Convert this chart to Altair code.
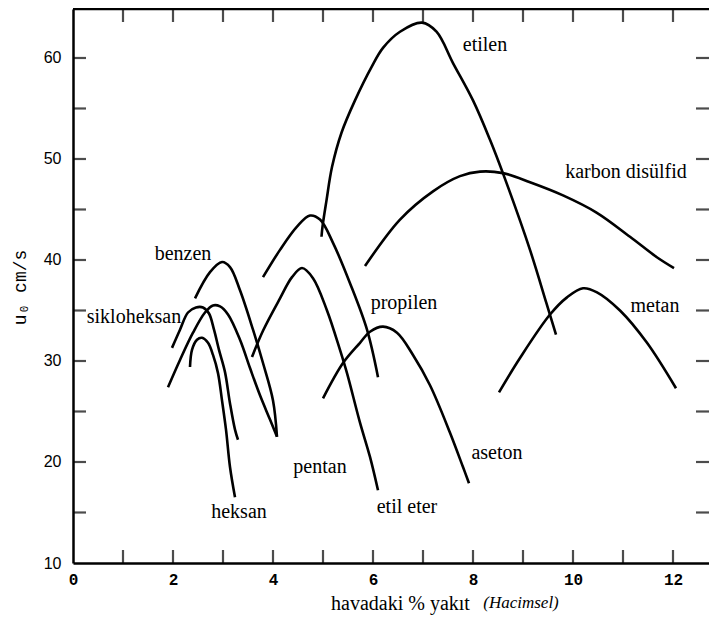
import altair as alt
import pandas as pd

# ---- data ----
etilen_x = [4.97, 4.99, 5.07, 5.18, 5.37, 5.64, 5.97, 6.2, 6.54, 6.98, 7.27, 7.6, 8.0, 8.34, 8.62, 9.14, 9.47, 9.66]
etilen_y = [42.3, 43.3, 45.9, 49.2, 52.6, 55.8, 59.1, 61.0, 62.6, 63.5, 62.6, 59.5, 55.8, 51.9, 48.3, 41.0, 35.7, 32.6]

cs2_x = [5.84, 6.54, 7.2, 7.74, 8.14, 8.6, 9.14, 9.8, 10.47, 11.14, 11.67, 12.02]
cs2_y = [39.4, 44.0, 46.8, 48.3, 48.75, 48.6, 47.7, 46.4, 44.7, 42.3, 40.3, 39.2]

metan_x = [8.52, 8.94, 9.54, 9.88, 10.2, 10.48, 10.94, 11.48, 12.06]
metan_y = [26.9, 30.3, 34.6, 36.3, 37.2, 36.8, 35.0, 31.8, 27.3]

propilen_x = [3.8, 4.14, 4.48, 4.74, 4.94, 5.2, 5.54, 5.88, 6.1]
propilen_y = [38.3, 41.0, 43.3, 44.4, 44.0, 41.7, 37.7, 33.1, 28.4]

eter_x = [3.58, 3.8, 4.14, 4.38, 4.58, 4.8, 5.08, 5.34, 5.48, 5.74, 5.94, 6.1]
eter_y = [30.4, 33.0, 36.2, 38.3, 39.2, 38.2, 35.0, 31.1, 28.8, 23.9, 20.5, 17.2]

aseton_x = [5.0, 5.4, 5.74, 5.94, 6.2, 6.48, 6.8, 7.14, 7.54, 7.8, 7.92]
aseton_y = [26.3, 29.8, 31.8, 32.9, 33.4, 32.8, 30.6, 27.6, 22.9, 19.5, 17.9]

benzen_x = [2.44, 2.74, 2.98, 3.14, 3.34, 3.6, 3.8, 4.0, 4.08]
benzen_y = [36.2, 38.8, 39.8, 39.3, 37.0, 33.1, 29.8, 26.1, 22.5]

siklo_x = [1.98, 2.14, 2.3, 2.46, 2.6, 2.72, 2.82, 2.92, 3.04, 3.14, 3.24, 3.3]
siklo_y = [31.3, 33.1, 34.8, 35.3, 35.3, 34.7, 33.1, 31.1, 28.9, 25.8, 23.2, 22.2]

pentan_x = [1.9, 2.14, 2.4, 2.64, 2.8, 2.94, 3.1, 3.34, 3.54, 3.74, 3.94, 4.08]
pentan_y = [27.4, 30.1, 32.8, 34.8, 35.5, 35.4, 34.6, 32.1, 29.3, 26.6, 24.2, 22.5]

heksan_x = [2.34, 2.38, 2.48, 2.58, 2.7, 2.8, 2.9, 2.98, 3.06, 3.14, 3.24]
heksan_y = [29.4, 31.1, 32.1, 32.3, 31.8, 30.6, 28.8, 26.1, 23.2, 19.5, 16.5]

series = {
    "etilen": (etilen_x, etilen_y),
    "karbon disülfid": (cs2_x, cs2_y),
    "metan": (metan_x, metan_y),
    "propilen": (propilen_x, propilen_y),
    "etil eter": (eter_x, eter_y),
    "aseton": (aseton_x, aseton_y),
    "benzen": (benzen_x, benzen_y),
    "sikloheksan": (siklo_x, siklo_y),
    "pentan": (pentan_x, pentan_y),
    "heksan": (heksan_x, heksan_y),
}

label_names = ["etilen", "karbon disülfid", "metan", "propilen", "aseton",
               "pentan", "etil eter", "benzen", "sikloheksan", "heksan"]
label_x = [8.24, 11.06, 11.64, 6.62, 8.48, 4.94, 6.68, 2.2, 1.22, 3.32]
label_y = [61.3, 48.7, 35.4, 35.7, 20.9, 19.5, 15.5, 40.6, 34.4, 15.0]

x_tick_values = list(range(1, 13))
y_tick_values = list(range(15, 65, 5))
x_label_values = [0, 2, 4, 6, 8, 10, 12]
y_label_values = [10, 20, 30, 40, 50, 60]

X_MIN, X_MAX = 0, 12.72
Y_MIN, Y_MAX = 10, 64.85

rows = []
for name, (xs, ys) in series.items():
    for xv, yv in zip(xs, ys):
        rows.append({"name": name, "x": xv, "y": yv})
curves_df = pd.DataFrame(rows)
labels_df = pd.DataFrame({"name": label_names, "x": label_x, "y": label_y})
xt_df = pd.DataFrame({"t": x_tick_values})
yt_df = pd.DataFrame({"t": y_tick_values})

xscale = alt.Scale(domain=[X_MIN, X_MAX], nice=False, zero=False)
yscale = alt.Scale(domain=[Y_MIN, Y_MAX], nice=False, zero=False)

x_axis = alt.Axis(
    values=x_label_values, grid=False, ticks=True, tickSize=0,
    domain=True, domainColor="black", domainWidth=2.5,
    labelFont="Liberation Mono", labelFontSize=16, labelFontWeight="bold",
    labelColor="black", labelPadding=8, labelFlush=False,
    title="havadaki % yakıt", titleFont="Liberation Serif", titleFontSize=20,
    titleFontWeight="normal", titleColor="black",
    titleX=327, titleY=40, titleAlign="center", titleBaseline="middle",
)
y_axis = alt.Axis(
    values=y_label_values, grid=False, ticks=True, tickSize=0,
    domain=True, domainColor="black", domainWidth=2.5,
    labelFont="Liberation Sans", labelFontSize=16, labelColor="black",
    labelPadding=12, labelFlush=False, labelBaseline="middle",
    title="u₀ cm/s", titleFont="Liberation Mono", titleFontSize=18,
    titleFontWeight="normal", titleColor="black",
    titleX=-53, titleY=278, titleAlign="center", titleBaseline="middle", titleAngle=270,
)

curves = alt.Chart(curves_df).mark_line(
    color="black", strokeWidth=2.6, interpolate="catmull-rom"
).encode(
    x=alt.X("x:Q", scale=xscale, axis=x_axis),
    y=alt.Y("y:Q", scale=yscale, axis=y_axis),
    detail="name:N",
)

labels = alt.Chart(labels_df).mark_text(
    font="Liberation Serif", fontSize=20, color="black", align="center", baseline="middle"
).encode(
    x=alt.X("x:Q", scale=xscale),
    y=alt.Y("y:Q", scale=yscale),
    text="name:N",
)

hacimsel = alt.Chart(pd.DataFrame({"x": [8.96], "y": [6.04], "t": ["(Hacimsel)"]})).mark_text(
    font="Liberation Serif", fontSize=17, fontStyle="italic", color="black",
    align="center", baseline="middle",
).encode(
    x=alt.X("x:Q", scale=xscale),
    y=alt.Y("y:Q", scale=yscale),
    text="t:N",
)

top_line = alt.Chart(pd.DataFrame({"v": [Y_MAX]})).mark_rule(
    color="black", strokeWidth=2.5
).encode(y=alt.Y("v:Q", scale=yscale))

bottom_ticks = alt.Chart(xt_df).mark_tick(
    orient="vertical", size=13, thickness=2.2, color="black", yOffset=-6.5
).encode(x=alt.X("t:Q", scale=xscale), y=alt.datum(Y_MIN, scale=yscale))

top_ticks = alt.Chart(xt_df).mark_tick(
    orient="vertical", size=13, thickness=2.2, color="black", yOffset=6.5
).encode(x=alt.X("t:Q", scale=xscale), y=alt.datum(Y_MAX, scale=yscale))

left_ticks = alt.Chart(yt_df).mark_tick(
    orient="horizontal", size=13, thickness=2.2, color="black", xOffset=6.5
).encode(y=alt.Y("t:Q", scale=yscale), x=alt.datum(X_MIN, scale=xscale))

right_ticks = alt.Chart(yt_df).mark_tick(
    orient="horizontal", size=13, thickness=2.2, color="black", xOffset=-6.5
).encode(y=alt.Y("t:Q", scale=yscale), x=alt.datum(X_MAX, scale=xscale))

chart = alt.layer(
    curves, labels, hacimsel, top_line, bottom_ticks, top_ticks, left_ticks, right_ticks
).properties(
    width=636, height=554,
    autosize=alt.AutoSizeParams(type="none"),
    padding={"left": 65, "top": 1, "right": 0, "bottom": 60},
    background="white",
).configure_view(strokeWidth=0)

chart.save("out.html", embed_options={"renderer": "svg", "actions": False})
